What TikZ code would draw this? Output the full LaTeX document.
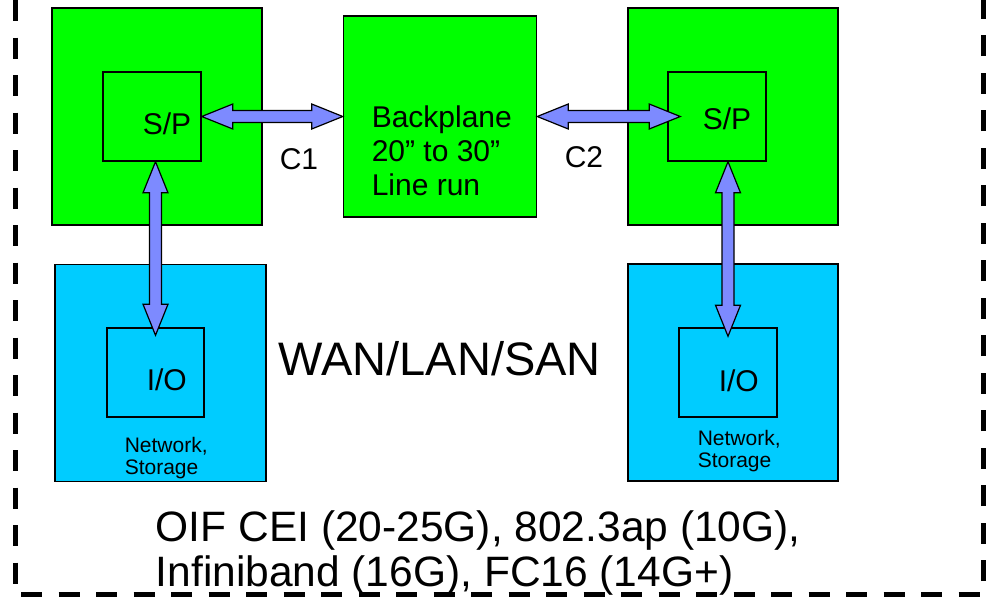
\documentclass[tikz,border=0pt]{standalone}
\usepackage{fontspec}
\setmainfont{Liberation Sans}
\usepackage{tikz}
\usetikzlibrary{calc, positioning}

\definecolor{boardgreen}{RGB}{0,255,0}
\definecolor{ioblue}{RGB}{0,204,255}
\definecolor{linkblue}{RGB}{125,138,255}

\begin{document}
\begin{tikzpicture}[
            x = 1pt, y = -1pt, % one unit per pixel, y downwards
            line width = 1.5pt, % box outlines
            font = \fontsize{30}{34}\selectfont,
            txt/.style = {anchor = base west, inner sep = 0pt, align = left}
        ]

        \tikzstyle{board}=[
            draw = black,
            fill = boardgreen,
            inner sep = 0pt,
            minimum width = 210pt,
            minimum height = 217pt
        ]
        \tikzstyle{card}=[board, fill = ioblue]
        \tikzstyle{chip}=[draw = black, inner sep = 0pt, minimum width = 98pt, minimum height = 89pt]
        \tikzstyle{link}=[
            draw = black, fill = linkblue, line width = 1.2pt, line join = miter,
            to path = {let \p1 = (\tikztostart), \p2 = (\tikztotarget),
                \n1 = {atan2(\y2-\y1,\x2-\x1)}, \n2 = {veclen(\x2-\x1,\y2-\y1)} in
                {[shift = {(\p1)}, rotate = \n1]
                (0,0) -- (31,12.5) -- (31,6) -- (\n2-31,6) -- (\n2-31,12.5) -- (\n2,0)
                -- (\n2-31,-12.5) -- (\n2-31,-6) -- (31,-6) -- (31,-12.5) -- cycle}}
        ]

        \useasboundingbox (0,0) rectangle (986,597);
        \clip (0,0) rectangle (986,597);

        % dashed enclosure, its top runs off the page
        \draw[line width = 5pt, dash pattern = on 21pt off 16.5pt]
            (15,-37.5) |- (983,594) -- (983,-37.5);

        \node[board] (gl) at (157,116.5) {};
        \node[board, minimum width = 193pt, minimum height = 201pt] (bp) [right=80pt of gl] {};
        \node[board] (gr) [right=90pt of bp] {};
        \node[card, minimum width = 211pt] (bl) at (160.5,373) {};
        \node[card] (br) at (733,372.5) {};

        \node[chip] (spl) at (152,116.5) {};
        \node[chip] (spr) at (717,116.5) {};
        \node[chip, minimum width = 97pt] (iol) at (155.5,372.5) {};
        \node[chip] (ior) at (728,372.5) {};

        % multi-line texts sit on the baseline of their last line
        \node[txt] (tspl) at (142,134) {S/P};
        \node[txt] (tspr) at (702,129) {S/P};
        \node[txt] (tiol) at (146,390) {I/O};
        \node[txt] (tior) at (718,391) {I/O};
        \node[txt] (c1) at (279,169) {C1};
        \node[txt] (c2) at (564,167) {C2};
        \node[txt] (tbp) at (371,195) {Backplane\\20” to 30”\\Line run};

        \node[txt, font = \fontsize{21}{22}\selectfont] (nsl) at (124,474) {Network,\\Storage};
        \node[txt, font = \fontsize{21}{22}\selectfont] (nsr) at (697,467) {Network,\\Storage};

        \node[txt, font = \fontsize{47}{50}\selectfont] (wan) at (278,375) {WAN/LAN/SAN};
        \node[txt, font = \fontsize{42.5}{45}\selectfont] (std) at (155,586)
            {OIF CEI (20-25G), 802.3ap (10G),\\Infiniband (16G), FC16 (14G+)};

        \path[link] (spl.east) to (bp.west);
        \path[link] (bp.east) to ($(spr.west)+(13,0)$);
        \path[link] (iol.north |- spl.south) to ($(iol.north)+(0,8)$);
        \path[link] (ior.north |- spr.south) to ($(ior.north)+(0,9)$);

  \end{tikzpicture}
\end{document}
